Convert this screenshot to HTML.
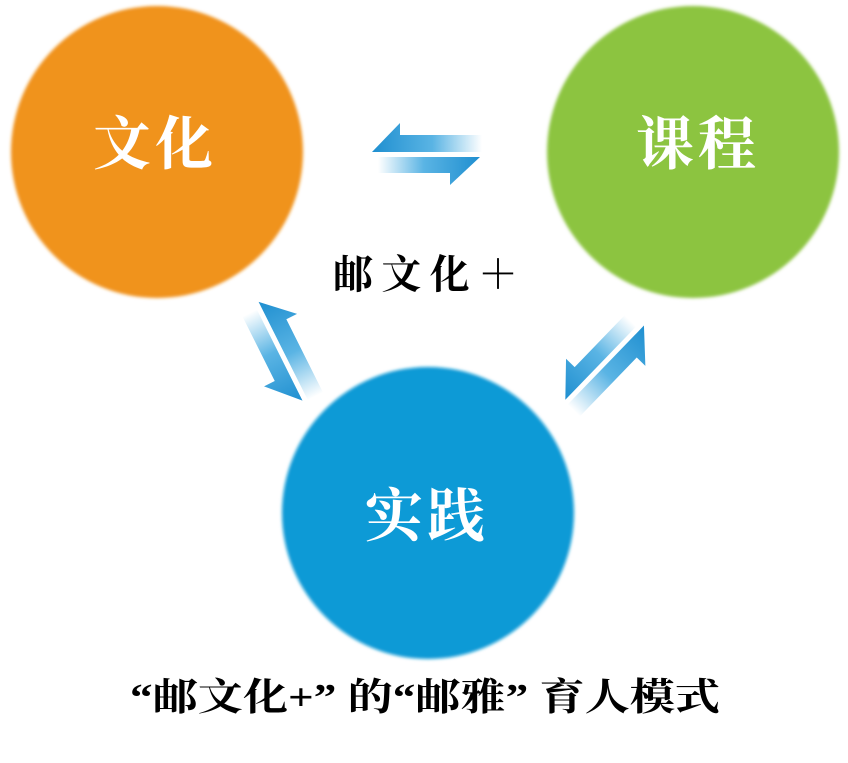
<!DOCTYPE html>
<html><head><meta charset="utf-8"><style>
html,body{margin:0;padding:0;background:#fff;width:848px;height:763px;overflow:hidden}
</style></head><body>
<svg width="848" height="763" viewBox="0 0 848 763" xmlns="http://www.w3.org/2000/svg">
<defs>
<linearGradient id="ga" gradientUnits="userSpaceOnUse" x1="-54" y1="0" x2="56" y2="0">
<stop offset="0" stop-color="#1f8fd0"/><stop offset="0.55" stop-color="#5ab4e4"/><stop offset="1" stop-color="#fff"/></linearGradient>
<linearGradient id="gb" gradientUnits="userSpaceOnUse" x1="54" y1="0" x2="-48" y2="0">
<stop offset="0" stop-color="#1f8fd0"/><stop offset="0.55" stop-color="#5ab4e4"/><stop offset="1" stop-color="#fff"/></linearGradient>
<g id="pair">
<polygon points="-54,-2 -26,-31 -26,-19 56,-19 56,-2" fill="url(#ga)"/>
<polygon points="-48,3 54,3 24,31 24,19 -48,19" fill="url(#gb)"/>
</g>
<filter id="bl"><feGaussianBlur stdDeviation="1.5"/></filter>
</defs>
<circle cx="157" cy="152" r="146" fill="#f0931f" filter="url(#bl)"/>
<circle cx="693" cy="152" r="146" fill="#8cc43f" filter="url(#bl)"/>
<circle cx="428" cy="513" r="146" fill="#0a9ad6" filter="url(#bl)"/>
<use href="#pair" transform="translate(426,154)"/>
<use href="#pair" transform="translate(281,351) rotate(63.4)"/>
<use href="#pair" transform="translate(605,363) rotate(134)"/>
<g font-family="'Liberation Serif','Noto Serif CJK SC',serif" font-weight="bold" fill="#fff" font-size="58" text-anchor="middle" letter-spacing="4">
<text x="155" y="164">文化</text>
<text x="698" y="164">课程</text>
<text x="427" y="536">实践</text>
</g>
<text x="333" y="288" textLength="185" lengthAdjust="spacing" font-family="'Liberation Serif','Noto Serif CJK SC',serif" font-weight="bold" font-size="40">邮文化＋</text>
<text x="130" y="710" textLength="590" lengthAdjust="spacingAndGlyphs" font-family="'Liberation Serif','Noto Serif CJK SC',serif" font-weight="bold" font-size="38" xml:space="preserve">“邮文化+” 的“邮雅” 育人模式</text>
</svg>
</body></html>
